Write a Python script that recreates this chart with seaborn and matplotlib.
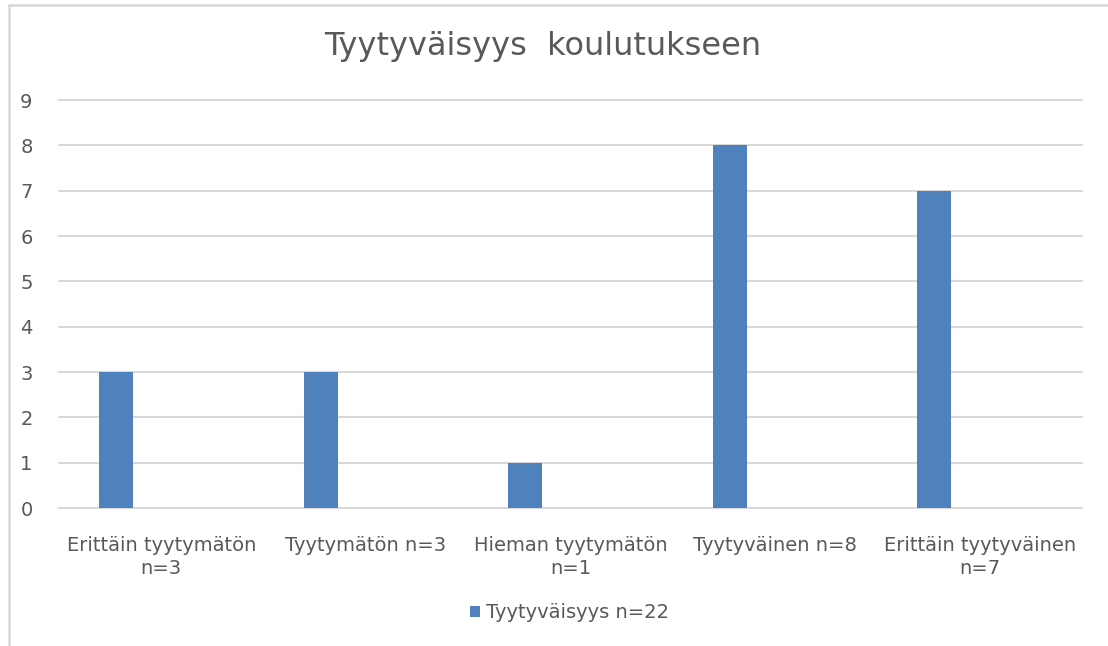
import matplotlib

matplotlib.use("Agg")
import matplotlib.pyplot as plt
import numpy as np
import pandas as pd
import seaborn as sns
from matplotlib.lines import Line2D

# ──── DATA ────────────────────────────────────────────────────────────────────

categories = [
    "Erittäin tyytymätön\nn=3",
    "Tyytymätön n=3",
    "Hieman tyytymätön\nn=1",
    "Tyytyväinen n=8",
    "Erittäin tyytyväinen\nn=7",
]
counts = [3, 3, 1, 8, 7]
series_name = "Tyytyväisyys n=22"
# Excel chart had an empty second series, which pushes the bars to the left
empty_series = [np.nan] * len(categories)
y_ticks = list(range(0, 10))
title = "Tyytyväisyys  koulutukseen"

df = pd.DataFrame(
    {
        "kategoria": categories * 2,
        "maara": counts + empty_series,
        "sarja": [series_name] * len(categories) + [" "] * len(categories),
    }
)

# ──── STYLE ───────────────────────────────────────────────────────────────────

bar_color = "#4F81BD"
text_color = "#595959"
grid_color = "#D9D9D9"

sns.set_theme(style="white")
plt.rcParams["font.family"] = ["DejaVu Sans"]

fig = plt.figure(figsize=(11.08, 6.46), dpi=100)
ax = fig.add_axes([59 / 1108, 1 - 508 / 646, (1082 - 59) / 1108, (508 - 100) / 646])

sns.barplot(
    data=df,
    x="kategoria",
    y="maara",
    hue="sarja",
    hue_order=[series_name, " "],
    order=categories,
    palette=[bar_color, bar_color],
    saturation=1,
    width=0.886,
    gap=0.625,
    linewidth=0,
    errorbar=None,
    ax=ax,
)

ax.set_ylim(0, 9)
ax.set_yticks(y_ticks)
ax.set_xlim(-0.5, len(categories) - 0.5)
ax.set_xlabel("")
ax.set_ylabel("")
for side in ["top", "right", "left", "bottom"]:
    ax.spines[side].set_visible(False)
ax.yaxis.grid(True, color=grid_color, linewidth=1.5)
for gl in ax.get_ygridlines():
    gl.set_clip_on(False)
ax.set_axisbelow(True)
ax.tick_params(axis="both", length=0, colors=text_color, labelsize=14)
ax.tick_params(axis="y", pad=19)
ax.tick_params(axis="x", pad=20)
for lbl in ax.get_xticklabels():
    lbl.set_linespacing(1.25)

handles, labels = ax.get_legend_handles_labels()
if ax.get_legend() is not None:
    ax.get_legend().remove()
fig.legend(
    handles[:1],
    [series_name],
    loc="center",
    bbox_to_anchor=(0.514, 1 - 613 / 646),
    frameon=False,
    fontsize=14,
    labelcolor=text_color,
    handlelength=0.55,
    handleheight=0.55,
    handletextpad=0.3,
)

fig.suptitle(title, x=0.49, y=1 - 46 / 646, va="center", fontsize=23, color=text_color)

# light frame of the chart area, as in the screenshot
fig.add_artist(Line2D([8.5 / 1108, 8.5 / 1108], [0, 1 - 5 / 646], color=grid_color, linewidth=1.8))
fig.add_artist(Line2D([8.5 / 1108, 1], [1 - 5 / 646, 1 - 5 / 646], color=grid_color, linewidth=1.8))

fig.savefig("out.png", dpi=100)
